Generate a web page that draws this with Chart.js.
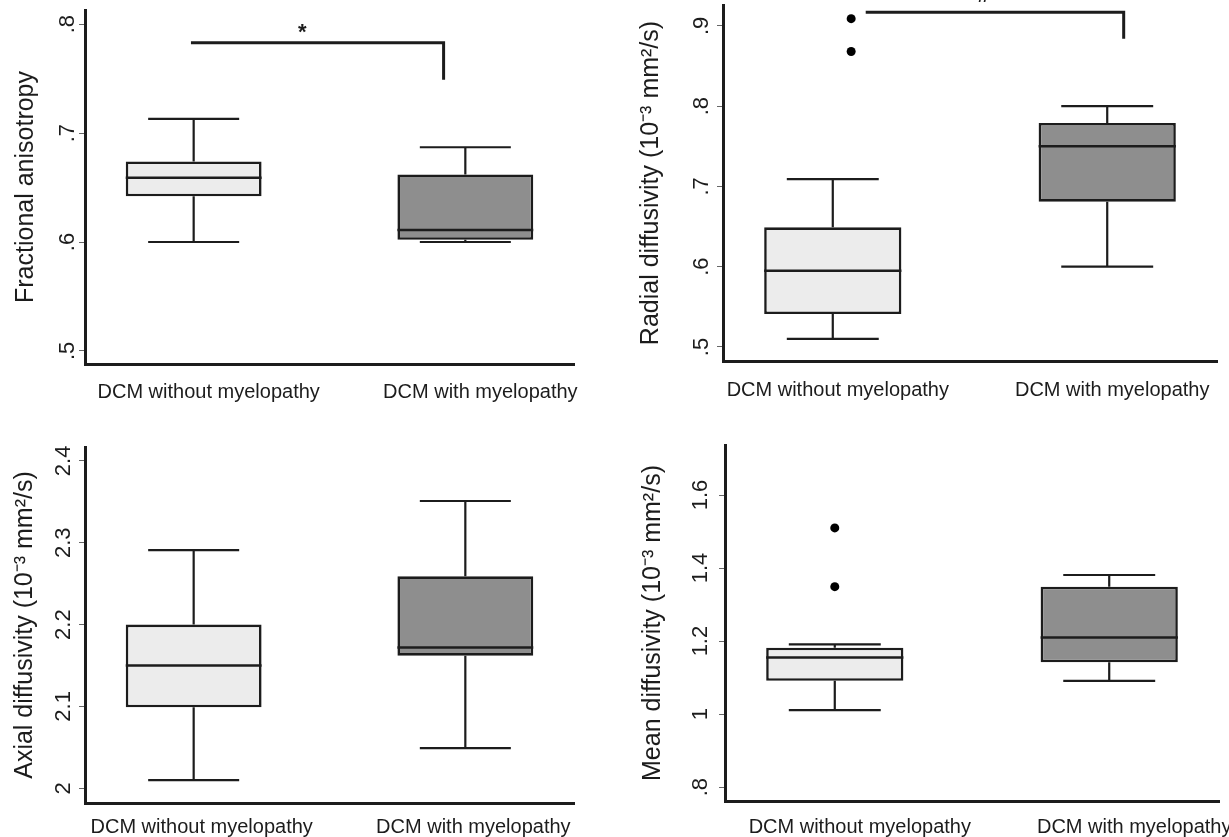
<!DOCTYPE html>
<html>
<head>
<meta charset="utf-8">
<script src="https://cdn.jsdelivr.net/npm/chart.js@4.4.1/dist/chart.umd.min.js"></script>
<style>
  html, body { margin: 0; padding: 0; background: #fff; }
  body { width: 1229px; height: 837px; position: relative; overflow: hidden; }
  canvas { position: absolute; display: block; }
  #faChart { left: 0; top: 0; }
  #rdChart { left: 600px; top: 0; }
  #adChart { left: 0; top: 410px; }
  #mdChart { left: 600px; top: 410px; }
</style>
</head>
<body>
<canvas id="faChart" width="600" height="410"></canvas>
<canvas id="rdChart" width="629" height="410"></canvas>
<canvas id="adChart" width="600" height="427"></canvas>
<canvas id="mdChart" width="629" height="427"></canvas>

<script>
/* ── data ─────────────────────────────────── */
const groups = ['DCM without myelopathy', 'DCM with myelopathy'];

// fractional anisotropy
const faLow = [0.600, 0.600];
const faQ1 = [0.642, 0.602];
const faMed = [0.659, 0.611];
const faQ3 = [0.674, 0.662];
const faHigh = [0.713, 0.687];
const faTicks = [0.5, 0.6, 0.7, 0.8];
const faTickLabels = ['.5', '.6', '.7', '.8'];
const faBracketX = [-0.01, 0.92, 0.92];
const faBracketY = [0.783, 0.783, 0.749];
const faMark = ['*', 0.40, 0.792];

// radial diffusivity
const rdLow = [0.510, 0.600];
const rdQ1 = [0.541, 0.681];
const rdMed = [0.595, 0.750];
const rdQ3 = [0.649, 0.779];
const rdHigh = [0.709, 0.800];
const rdOutX = [0.067, 0.067];
const rdOutY = [0.909, 0.868];
const rdTicks = [0.5, 0.6, 0.7, 0.8, 0.9];
const rdTickLabels = ['.5', '.6', '.7', '.8', '.9'];
const rdBracketX = [0.12, 1.06, 1.06];
const rdBracketY = [0.917, 0.917, 0.884];
const rdMark = ['#', 0.55, 0.937];

// axial diffusivity
const adLow = [2.010, 2.049];
const adQ1 = [2.099, 2.162];
const adMed = [2.150, 2.172];
const adQ3 = [2.200, 2.259];
const adHigh = [2.291, 2.351];
const adTicks = [2.0, 2.1, 2.2, 2.3, 2.4];
const adTickLabels = ['2', '2.1', '2.2', '2.3', '2.4'];

// mean diffusivity
const mdLow = [1.011, 1.091];
const mdQ1 = [1.091, 1.142];
const mdMed = [1.155, 1.210];
const mdQ3 = [1.182, 1.349];
const mdHigh = [1.191, 1.381];
const mdOutX = [0, 0];
const mdOutY = [1.510, 1.349];
const mdTicks = [0.8, 1.0, 1.2, 1.4, 1.6];
const mdTickLabels = ['.8', '1', '1.2', '1.4', '1.6'];

/* ── look ─────────────────────────────────── */
const ink = '#1c1c1c';
const boxFill = ['#ececec', '#8e8e8e'];
Chart.defaults.font.family = '"Liberation Sans", Arial, sans-serif';
Chart.defaults.color = ink;

// whiskers, caps and median line, drawn on top of the floating bars
const boxPlotLines = {
  id: 'boxPlotLines',
  afterDatasetsDraw(chart, args, opts) {
    const meta = chart.getDatasetMeta(0);
    const y = chart.scales.y;
    const ctx = chart.ctx;
    ctx.save();
    ctx.strokeStyle = ink;
    meta.data.forEach((bar, i) => {
      const half = bar.width / 2;
      const cap = half * 0.67;
      const yLow = y.getPixelForValue(opts.low[i]);
      const yQ1 = y.getPixelForValue(opts.q1[i]);
      const yMed = y.getPixelForValue(opts.med[i]);
      const yQ3 = y.getPixelForValue(opts.q3[i]);
      const yHigh = y.getPixelForValue(opts.high[i]);
      ctx.lineWidth = 2.2;
      ctx.beginPath();
      ctx.moveTo(bar.x, yQ3);
      ctx.lineTo(bar.x, yHigh);
      ctx.moveTo(bar.x - cap, yHigh);
      ctx.lineTo(bar.x + cap, yHigh);
      ctx.moveTo(bar.x, yQ1);
      ctx.lineTo(bar.x, yLow);
      ctx.moveTo(bar.x - cap, yLow);
      ctx.lineTo(bar.x + cap, yLow);
      ctx.stroke();
      ctx.lineWidth = 2.5;
      ctx.beginPath();
      ctx.moveTo(bar.x - half, yMed);
      ctx.lineTo(bar.x + half, yMed);
      ctx.stroke();
    });
    ctx.restore();
  },
};

// significance symbol over the bracket
const sigMark = {
  id: 'sigMark',
  afterDraw(chart, args, opts) {
    if (!opts.mark) return;
    const { ctx, scales: { x, y } } = chart;
    ctx.save();
    ctx.fillStyle = ink;
    ctx.font = 'bold 22px "Liberation Sans", Arial, sans-serif';
    ctx.textAlign = 'center';
    ctx.textBaseline = 'middle';
    ctx.fillText(opts.mark[0], x.getPixelForValue(opts.mark[1]), y.getPixelForValue(opts.mark[2]));
    ctx.restore();
  },
};

function yScale(min, max, ticks, labels, title, s) {
  return {
    type: 'linear',
    bounds: 'data',
    min,
    max,
    afterBuildTicks: sc => { sc.ticks = ticks.map(v => ({ value: v })); },
    afterFit: sc => {
      sc.width = s.axisWidth;
      sc.paddingTop = 0;
      sc.paddingBottom = 0;
    },
    ticks: {
      autoSkip: false,
      minRotation: 90,
      maxRotation: 90,
      crossAlign: 'center',
      padding: s.tickPad,
      color: ink,
      font: { size: 22 },
      callback: v => labels[ticks.indexOf(v)],
    },
    grid: { drawOnChartArea: false, drawTicks: true, tickLength: 6, color: '#666', lineWidth: 1 },
    border: { display: true, color: ink, width: 3 },
    title: {
      display: true,
      text: title,
      color: ink,
      font: { size: 25 },
      padding: { top: s.titlePad, bottom: 0 },
    },
  };
}

function xScale(s) {
  return {
    type: 'linear',
    offset: false,
    bounds: 'data',
    min: -0.4,
    max: 1.4,
    afterBuildTicks: sc => { sc.ticks = groups.map((g, i) => ({ value: i })); },
    afterFit: sc => {
      sc.height = s.axisHeight;
      sc.paddingLeft = 0;
      sc.paddingRight = 0;
    },
    ticks: {
      autoSkip: false,
      minRotation: 0,
      maxRotation: 0,
      padding: s.labelPad,
      labelOffset: s.labelOffset,
      color: ink,
      font: { size: 20 },
      callback: v => groups[v],
    },
    grid: { display: false, offset: false },
    border: { display: true, color: ink, width: 3 },
  };
}

function makeBoxChart(id, stats, yCfg, xCfg, extras, layoutPad, marks) {
  const datasets = [
    {
      type: 'bar',
      data: groups.map((g, i) => ({ x: i, y: [stats.q1[i], stats.q3[i]] })),
      backgroundColor: boxFill,
      borderColor: ink,
      borderWidth: 2.6,
      borderSkipped: false,
      barPercentage: 0.5,
      categoryPercentage: 1,
    },
  ].concat(extras);

  return new Chart(document.getElementById(id), {
    type: 'bar',
    data: { datasets },
    options: {
      responsive: false,
      animation: false,
      events: [],
      layout: { padding: layoutPad },
      plugins: {
        legend: { display: false },
        tooltip: { enabled: false },
        boxPlotLines: stats,
        sigMark: { mark: marks },
      },
      scales: { x: xCfg, y: yCfg },
    },
    plugins: [boxPlotLines, sigMark],
  });
}

function outlierSet(xs, ys) {
  return {
    type: 'scatter',
    data: xs.map((x, i) => ({ x, y: ys[i] })),
    pointRadius: 4.5,
    pointBackgroundColor: '#000',
    pointBorderWidth: 0,
  };
}

function bracketSet(xs, ys) {
  return {
    type: 'line',
    data: xs.map((x, i) => ({ x, y: ys[i] })),
    borderColor: ink,
    borderWidth: 3,
    pointRadius: 0,
    fill: false,
    tension: 0,
  };
}

makeBoxChart(
  'faChart',
  { low: faLow, q1: faQ1, med: faMed, q3: faQ3, high: faHigh },
  yScale(0.488, 0.813, faTicks, faTickLabels, 'Fractional anisotropy', { axisWidth: 85, tickPad: 2, titlePad: 11 }),
  xScale({ axisHeight: 46, labelPad: 8, labelOffset: 15 }),
  [bracketSet(faBracketX, faBracketY)],
  { left: 0, right: 26, top: 10, bottom: 0 },
  faMark
);

makeBoxChart(
  'rdChart',
  { low: rdLow, q1: rdQ1, med: rdMed, q3: rdQ3, high: rdHigh },
  yScale(0.4825, 0.926, rdTicks, rdTickLabels, 'Radial diffusivity (10\u207B\u00B3 mm\u00B2/s)', { axisWidth: 123, tickPad: 6, titlePad: 36 }),
  xScale({ axisHeight: 49, labelPad: 9, labelOffset: 5 }),
  [outlierSet(rdOutX, rdOutY), bracketSet(rdBracketX, rdBracketY)],
  { left: 0, right: 12, top: 5, bottom: 0 },
  rdMark
);

makeBoxChart(
  'adChart',
  { low: adLow, q1: adQ1, med: adMed, q3: adQ3, high: adHigh },
  yScale(1.982, 2.417, adTicks, adTickLabels, 'Axial diffusivity (10\u207B\u00B3 mm\u00B2/s)', { axisWidth: 85, tickPad: 0, titlePad: 10 }),
  xScale({ axisHeight: 34, labelPad: 4, labelOffset: 8 }),
  [],
  { left: 0, right: 26, top: 37, bottom: 0 },
  null
);

makeBoxChart(
  'mdChart',
  { low: mdLow, q1: mdQ1, med: mdMed, q3: mdQ3, high: mdHigh },
  yScale(0.762, 1.737, mdTicks, mdTickLabels, 'Mean diffusivity (10\u207B\u00B3 mm\u00B2/s)', { axisWidth: 125, tickPad: 3, titlePad: 38 }),
  xScale({ axisHeight: 36, labelPad: 6, labelOffset: 25 }),
  [outlierSet(mdOutX, mdOutY)],
  { left: 0, right: 10, top: 35, bottom: 0 },
  null
);
</script>
</body>
</html>
